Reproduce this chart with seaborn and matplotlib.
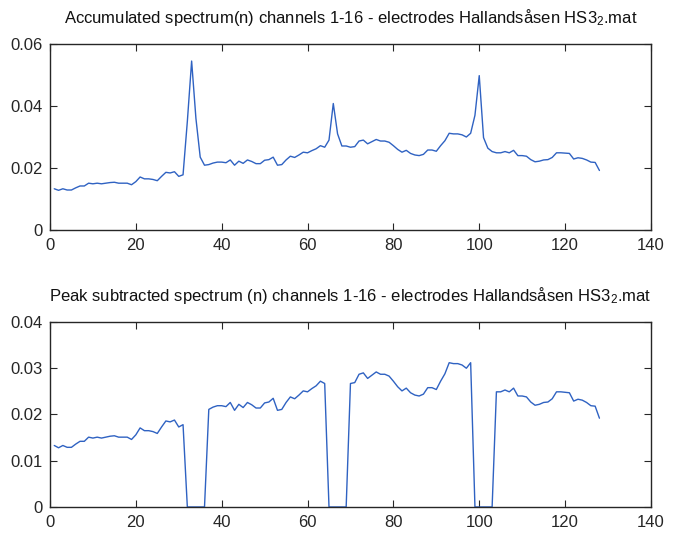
import numpy as np
import pandas as pd
import matplotlib
matplotlib.use("Agg")
import matplotlib.pyplot as plt
import seaborn as sns

# Accumulated spectrum over channels 1-16, frequency bins 1..128
bins = list(range(1, 129))
accumulated = [
    0.0133, 0.0128, 0.0133, 0.0129, 0.0129, 0.0136, 0.0142, 0.0142, 0.0151, 0.0149,
    0.0151, 0.0149, 0.0151, 0.0153, 0.0154, 0.0151, 0.0151, 0.0151, 0.0146, 0.0156,
    0.0171, 0.0165, 0.0165, 0.0163, 0.0159, 0.0173, 0.0186, 0.0184, 0.0188, 0.0173,
    0.0178, 0.0350, 0.0545, 0.0360, 0.0235, 0.0209, 0.0211, 0.0216, 0.0219, 0.0219,
    0.0217, 0.0226, 0.0209, 0.0222, 0.0215, 0.0226, 0.0221, 0.0214, 0.0214, 0.0225,
    0.0227, 0.0235, 0.0209, 0.0211, 0.0226, 0.0238, 0.0234, 0.0242, 0.0251, 0.0249,
    0.0256, 0.0262, 0.0272, 0.0267, 0.0290, 0.0408, 0.0310, 0.0271, 0.0271, 0.0267,
    0.0269, 0.0287, 0.0290, 0.0278, 0.0285, 0.0292, 0.0287, 0.0287, 0.0283, 0.0272,
    0.0260, 0.0251, 0.0257, 0.0247, 0.0242, 0.0240, 0.0244, 0.0258, 0.0258, 0.0254,
    0.0272, 0.0288, 0.0312, 0.0310, 0.0310, 0.0307, 0.0300, 0.0312, 0.0370, 0.0498,
    0.0298, 0.0264, 0.0253, 0.0249, 0.0249, 0.0253, 0.0249, 0.0257, 0.0240, 0.0240,
    0.0238, 0.0227, 0.0220, 0.0222, 0.0226, 0.0227, 0.0234, 0.0249, 0.0249, 0.0248,
    0.0247, 0.0229, 0.0233, 0.0231, 0.0226, 0.0219, 0.0218, 0.0192,
]

# Bins around the three peaks that are set to zero in the subtracted spectrum
peak_bins = [32, 33, 34, 35, 36, 65, 66, 67, 68, 69, 99, 100, 101, 102, 103]

subtracted = [0.0 if b in peak_bins else v for b, v in zip(bins, accumulated)]

xticks = [0, 20, 40, 60, 80, 100, 120, 140]
xticklabels = ["0", "20", "40", "60", "80", "100", "120", "140"]
yticks_top = [0, 0.02, 0.04, 0.06]
yticklabels_top = ["0", "0.02", "0.04", "0.06"]
yticks_bottom = [0, 0.01, 0.02, 0.03, 0.04]
yticklabels_bottom = ["0", "0.01", "0.02", "0.03", "0.04"]

title_top = "Accumulated spectrum(n) channels 1-16 - electrodes Hallandsåsen HS3$\\mathregular{_2}$.mat"
title_bottom = "Peak subtracted spectrum (n) channels 1-16 - electrodes Hallandsåsen HS3$\\mathregular{_2}$.mat"

sns.set_style("ticks")
plt.rcParams["font.family"] = ["Liberation Sans", "DejaVu Sans"]
plt.rcParams["mathtext.fontset"] = "custom"
plt.rcParams["mathtext.rm"] = "Liberation Sans"

line_color = "#2f62c2"
edge = "#262626"

df = pd.DataFrame({"n": bins, "accumulated": accumulated, "subtracted": subtracted})

fig = plt.figure(figsize=(6.78, 5.34), dpi=100)
ax1 = fig.add_axes([0.0737, 0.5693, 0.8864, 0.3483])
ax2 = fig.add_axes([0.0737, 0.0506, 0.8864, 0.3464])

panels = [
    (ax1, "accumulated", yticks_top, yticklabels_top, 0.06, title_top),
    (ax2, "subtracted", yticks_bottom, yticklabels_bottom, 0.04, title_bottom),
]

for ax, col, yt, ytl, ymax, title in panels:
    sns.lineplot(data=df, x="n", y=col, ax=ax, color=line_color, linewidth=1.0,
                 errorbar=None)
    ax.set_xlim(0, 140)
    ax.set_ylim(0, ymax)
    ax.set_xticks(xticks)
    ax.set_xticklabels(xticklabels)
    ax.set_yticks(yt)
    ax.set_yticklabels(ytl)
    ax.set_xlabel("")
    ax.set_ylabel("")
    ax.tick_params(direction="in", length=5, width=0.8, top=True, right=True,
                   labelsize=12, colors=edge)
    ax.tick_params(axis="x", pad=6)
    ax.tick_params(axis="y", pad=5)
    for s in ax.spines.values():
        s.set_visible(True)
        s.set_color(edge)
        s.set_linewidth(1.0)
    ax.set_title(title, fontsize=12, color="#111111", pad=15)

fig.savefig("out.png", dpi=100)
